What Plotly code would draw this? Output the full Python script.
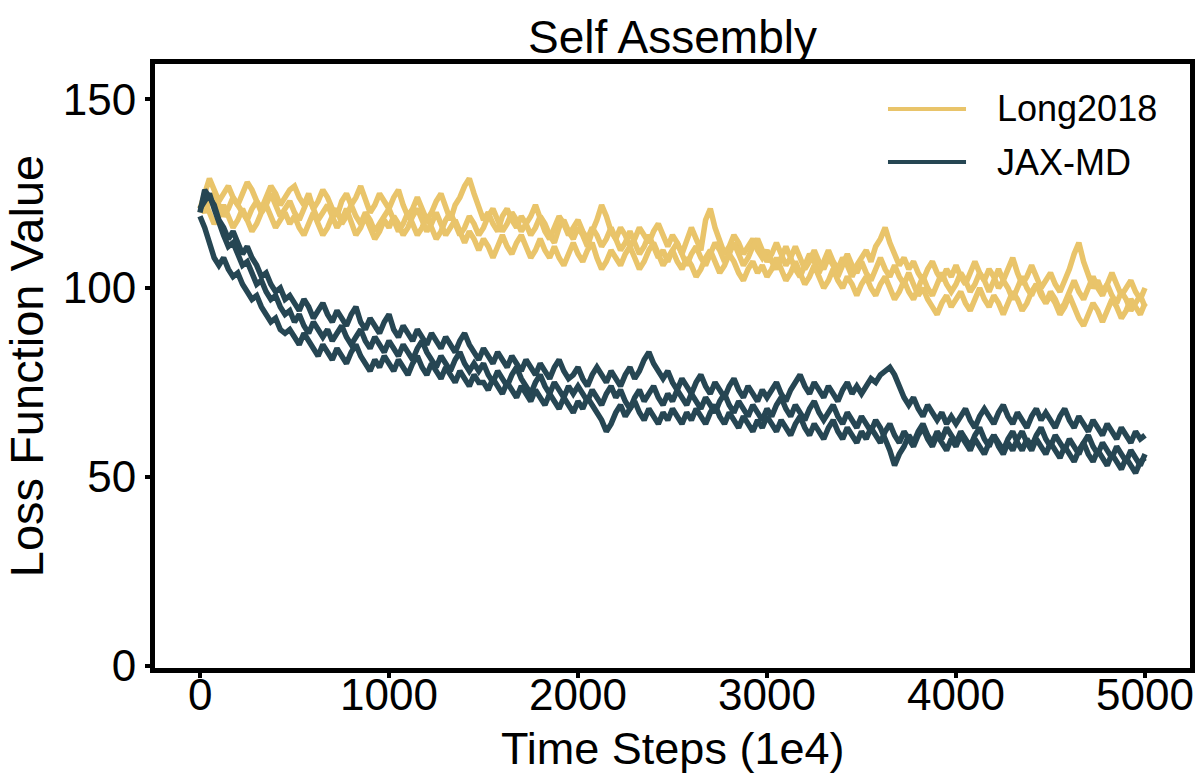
import plotly.graph_objects as go

# Time steps (1e4), one sample every 25 steps
time_steps = list(range(0, 5001, 25))

# Long2018 runs
long2018_run1 = [121, 125, 129, 126, 123, 125, 127, 124, 122, 125, 128, 126, 123, 121, 124, 127, 125, 122, 124, 126,
                 127, 124, 122, 125, 121, 123, 126, 124, 121, 119, 123, 125, 122, 124, 127, 123, 120, 122, 125, 123,
                 121, 124, 126, 122, 119, 121, 124, 121, 118, 120, 123, 125, 121, 118, 122, 124, 127, 129, 125, 121,
                 118, 120, 117, 115, 119, 121, 118, 116, 119, 117, 114, 116, 119, 117, 114, 112, 116, 118, 115, 113,
                 116, 114, 111, 115, 118, 122, 119, 115, 113, 116, 114, 111, 113, 116, 114, 112, 115, 117, 114, 111,
                 114, 112, 109, 113, 116, 113, 110, 118, 121, 116, 112, 109, 111, 114, 112, 109, 111, 113, 110, 108,
                 110, 107, 105, 108, 111, 108, 105, 103, 106, 109, 107, 104, 107, 110, 107, 105, 108, 106, 103, 106,
                 108, 110, 107, 111, 113, 116, 112, 109, 106, 108, 105, 107, 104, 102, 105, 107, 104, 102, 105, 103,
                 106, 103, 101, 104, 107, 104, 102, 105, 103, 100, 102, 105, 108, 104, 101, 103, 106, 103, 100, 102,
                 104, 101, 99, 102, 105, 109, 112, 107, 103, 100, 102, 99, 101, 104, 101, 98, 100, 102, 99, 97,
                 100]
long2018_run2 = [122, 120, 123, 125, 122, 119, 121, 124, 122, 120, 118, 121, 123, 120, 122, 125, 122, 119, 121, 123,
                 120, 118, 121, 124, 121, 118, 120, 122, 119, 121, 117, 119, 122, 119, 117, 120, 118, 115, 117, 119,
                 121, 118, 115, 117, 120, 117, 114, 116, 119, 116, 113, 115, 118, 120, 117, 114, 116, 119, 117, 114,
                 116, 119, 121, 118, 115, 117, 120, 118, 115, 117, 119, 122, 118, 115, 113, 116, 119, 117, 114, 116,
                 118, 115, 113, 116, 114, 111, 113, 116, 113, 110, 112, 115, 112, 109, 111, 114, 111, 108, 110, 107,
                 110, 112, 109, 106, 109, 111, 108, 106, 109, 112, 110, 107, 109, 112, 109, 106, 108, 111, 113, 110,
                 107, 109, 112, 109, 106, 108, 111, 108, 105, 107, 110, 107, 105, 108, 106, 103, 106, 109, 106, 104,
                 107, 104, 102, 105, 108, 105, 103, 106, 103, 101, 104, 101, 98, 100, 97, 95, 93, 96, 98, 95,
                 97, 99, 96, 94, 97, 100, 97, 95, 98, 96, 93, 96, 99, 97, 94, 96, 99, 101, 98, 96,
                 99, 97, 94, 96, 99, 102, 99, 97, 100, 103, 100, 98, 101, 98, 96, 99, 97, 94, 96, 98,
                 95]
long2018_run3 = [120, 123, 120, 117, 119, 122, 119, 116, 118, 121, 118, 115, 117, 120, 122, 119, 116, 118, 120, 117,
                 119, 116, 114, 117, 120, 117, 114, 116, 119, 116, 118, 121, 117, 114, 116, 119, 116, 113, 115, 118,
                 116, 119, 117, 114, 116, 119, 121, 118, 115, 117, 120, 117, 114, 116, 118, 115, 112, 115, 113, 110,
                 113, 111, 108, 111, 114, 111, 109, 112, 114, 111, 108, 110, 113, 110, 108, 111, 108, 106, 109, 112,
                 109, 107, 110, 112, 108, 105, 107, 110, 108, 106, 109, 111, 108, 105, 107, 110, 112, 109, 106, 108,
                 110, 107, 105, 108, 106, 103, 105, 108, 110, 107, 104, 106, 109, 107, 104, 102, 105, 107, 104, 106,
                 103, 105, 108, 105, 102, 104, 107, 104, 101, 103, 106, 103, 100, 102, 105, 102, 100, 103, 101, 98,
                 101, 103, 100, 98, 101, 103, 100, 97, 99, 102, 99, 97, 100, 103, 100, 98, 101, 104, 101, 99,
                 101, 104, 102, 99, 101, 104, 102, 99, 102, 105, 102, 100, 97, 100, 103, 100, 98, 101, 99, 96,
                 98, 96, 93, 95, 98, 95, 92, 90, 93, 96, 94, 91, 94, 97, 95, 92, 94, 97, 95, 93,
                 96]

# JAX-MD runs
jaxmd_run1 = [120, 126, 124, 122, 118, 116, 113, 115, 112, 109, 111, 108, 106, 103, 104, 101, 99, 100, 97, 98,
              96, 94, 97, 95, 92, 94, 96, 93, 91, 94, 92, 90, 93, 95, 91, 89, 92, 90, 88, 91,
              93, 89, 87, 90, 88, 86, 89, 87, 85, 88, 86, 84, 87, 85, 83, 86, 88, 85, 83, 81,
              84, 82, 80, 83, 81, 79, 82, 80, 78, 81, 79, 77, 80, 78, 76, 79, 81, 78, 76, 77,
              79, 76, 74, 77, 79, 77, 75, 78, 76, 74, 77, 79, 76, 78, 81, 83, 80, 78, 76, 78,
              75, 73, 76, 74, 72, 75, 77, 74, 72, 75, 73, 71, 74, 76, 73, 71, 74, 72, 70, 73,
              71, 73, 75, 72, 70, 73, 75, 77, 74, 72, 75, 73, 71, 74, 72, 70, 73, 75, 72, 74,
              72, 74, 76, 75, 77, 78, 79, 77, 74, 71, 69, 71, 68, 66, 69, 67, 65, 67, 64, 66,
              64, 66, 68, 65, 63, 66, 68, 66, 64, 67, 69, 66, 64, 67, 65, 63, 66, 68, 65, 67,
              65, 63, 66, 68, 65, 63, 66, 64, 62, 65, 63, 61, 64, 62, 60, 63, 61, 59, 62, 60,
              61]
jaxmd_run2 = [121, 123, 125, 121, 117, 114, 111, 112, 109, 106, 107, 104, 101, 102, 99, 97, 98, 95, 93, 94,
              91, 93, 90, 88, 91, 89, 87, 89, 86, 88, 90, 87, 85, 87, 89, 86, 84, 87, 85, 83,
              86, 84, 82, 85, 83, 81, 84, 86, 83, 81, 79, 82, 80, 78, 81, 83, 80, 78, 80, 78,
              80, 77, 75, 78, 76, 74, 77, 79, 76, 74, 72, 75, 77, 74, 72, 75, 73, 71, 74, 72,
              74, 72, 70, 73, 71, 69, 72, 74, 71, 73, 70, 68, 71, 73, 70, 72, 74, 71, 69, 72,
              70, 73, 71, 69, 72, 70, 68, 71, 69, 67, 70, 72, 69, 67, 70, 68, 66, 69, 67, 65,
              68, 66, 69, 71, 68, 66, 69, 67, 65, 68, 70, 67, 65, 67, 69, 66, 64, 67, 65, 63,
              66, 64, 62, 65, 63, 60, 57, 53, 56, 58, 61, 59, 62, 64, 61, 59, 62, 60, 63, 61,
              59, 62, 60, 58, 61, 63, 60, 58, 61, 59, 57, 60, 62, 59, 57, 60, 58, 61, 63, 60,
              58, 61, 59, 57, 60, 58, 56, 59, 61, 58, 56, 59, 57, 55, 58, 56, 54, 57, 55, 53,
              56]
jaxmd_run3 = [119, 116, 112, 108, 106, 108, 105, 103, 104, 101, 99, 97, 98, 95, 93, 91, 92, 89, 88, 89,
              87, 85, 88, 86, 84, 82, 85, 83, 81, 84, 82, 80, 83, 85, 82, 80, 78, 81, 79, 82,
              80, 78, 81, 79, 77, 80, 82, 79, 77, 80, 78, 76, 79, 77, 75, 78, 76, 74, 77, 75,
              75, 73, 76, 74, 72, 75, 73, 71, 74, 72, 70, 73, 71, 69, 72, 70, 68, 71, 69, 67,
              70, 68, 71, 69, 67, 65, 62, 64, 67, 69, 66, 68, 70, 67, 65, 68, 66, 64, 67, 65,
              68, 66, 64, 67, 65, 68, 66, 64, 67, 69, 66, 64, 67, 65, 63, 66, 64, 62, 65, 63,
              66, 64, 62, 65, 63, 61, 64, 66, 63, 61, 64, 62, 60, 63, 65, 62, 60, 63, 61, 59,
              62, 60, 63, 61, 59, 62, 64, 61, 59, 62, 60, 58, 61, 63, 60, 58, 61, 59, 57, 60,
              58, 61, 59, 57, 60, 58, 56, 59, 61, 58, 56, 59, 57, 60, 62, 59, 57, 60, 58, 56,
              59, 57, 55, 58, 56, 54, 57, 59, 56, 54, 57, 55, 53, 56, 54, 52, 55, 53, 51, 54,
              55]

x_ticks = [0, 1000, 2000, 3000, 4000, 5000]
x_tick_labels = ["0", "1000", "2000", "3000", "4000", "5000"]
y_ticks = [0, 50, 100, 150]
legend_names = ["Long2018", "JAX-MD"]

GOLD = "#E9C46A"
DARK = "#264653"
FONT = "Liberation Sans, Arial, Helvetica, sans-serif"

fig = go.Figure()
for run in [long2018_run1, long2018_run2, long2018_run3]:
    fig.add_trace(go.Scatter(x=time_steps, y=run, mode="lines",
                             line=dict(color=GOLD, width=5.5),
                             name=legend_names[0], showlegend=False))
for run in [jaxmd_run1, jaxmd_run2, jaxmd_run3]:
    fig.add_trace(go.Scatter(x=time_steps, y=run, mode="lines",
                             line=dict(color=DARK, width=5.5),
                             name=legend_names[1], showlegend=False))

# Legend (matplotlib style: long line samples)
legend_y = [0.9255, 0.8377]
for name, col, yy in zip(legend_names, [GOLD, DARK], legend_y):
    fig.add_shape(type="line", xref="paper", yref="paper",
                  x0=0.7082, x1=0.7836, y0=yy, y1=yy,
                  line=dict(color=col, width=4))
    fig.add_annotation(xref="paper", yref="paper", x=0.8116, y=yy,
                       xanchor="left", yanchor="middle", text=name, showarrow=False,
                       font=dict(family=FONT, size=36, color="black"))

# X tick labels placed at the axis' tick values (closer to the axis than plotly's default)
for tv, tl in zip(x_ticks, x_tick_labels):
    fig.add_annotation(xref="x", yref="paper", x=tv, y=-0.0447,
                       xanchor="center", yanchor="middle", text=tl, showarrow=False,
                       font=dict(family=FONT, size=44, color="black"))

# X axis title
fig.add_annotation(xref="paper", yref="paper", x=0.5, y=-0.134,
                   xanchor="center", yanchor="middle", text="Time Steps (1e4)", showarrow=False,
                   font=dict(family=FONT, size=45, color="black"))

axis_common = dict(showline=True, linecolor="black", linewidth=5, mirror=True,
                   ticks="outside", ticklen=5, tickwidth=4, tickcolor="black",
                   showgrid=False, zeroline=False, automargin=False,
                   tickfont=dict(family=FONT, size=44, color="black"))

fig.update_layout(
    width=1201, height=779,
    margin=dict(l=155, r=11, t=64, b=111),
    paper_bgcolor="white", plot_bgcolor="white",
    title=dict(text="Self Assembly", x=0.56, xanchor="center", y=0.953, yanchor="middle",
               font=dict(family=FONT, size=46, color="black")),
    xaxis=dict(range=[-238, 5238], tickvals=x_ticks, showticklabels=False,
               **axis_common),
    yaxis=dict(range=[-0.66, 159.34], tickvals=y_ticks,
               title=dict(text="Loss Function Value", font=dict(family=FONT, size=47, color="black"),
                          standoff=10),
               **axis_common),
    showlegend=False,
)

fig.write_html("out.html")
